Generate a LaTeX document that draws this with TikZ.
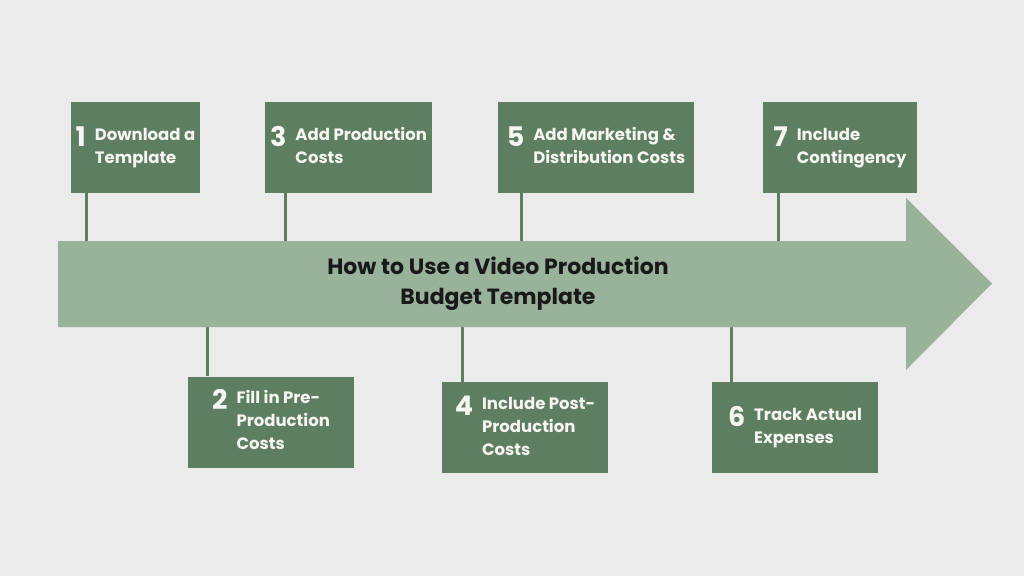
\documentclass[tikz,border=0pt]{standalone}
\usepackage{fontspec}
\setmainfont{Poppins}
\definecolor{boxgreen}{HTML}{5E7E62}
\definecolor{arrowgreen}{HTML}{98B39A}
\definecolor{pagegray}{HTML}{EBEBEB}
\definecolor{labelwhite}{HTML}{F6F6F0}
\newcommand{\stepnum}[1]{\raisebox{-6pt}{\fontsize{27}{27}\selectfont #1}\hspace{9pt}}
\tikzset{
  stepbox/.style={fill=boxgreen, minimum height=91pt, inner sep=0pt,
    text=labelwhite, font=\bfseries\fontsize{16.5}{23}\selectfont},
  stemline/.style={draw=boxgreen, line width=3pt},
  titletext/.style={align=center, text=black!90, font=\bfseries\fontsize{22}{30}\selectfont},
}
\begin{document}
\begin{tikzpicture}[x=1pt, y=-1pt]%
   % page
   \fill[pagegray] (0,0) rectangle (1024,576);
   \useasboundingbox (0,0) rectangle (1024,576);
   % stems meet the arrow here
   \coordinate (s1) at (86,241);
   \coordinate (s3) at (285,241);
   \coordinate (s5) at (521,241);
   \coordinate (s7) at (778,241);
   \coordinate (s2) at (207,327);
   \coordinate (s4) at (462,327);
   \coordinate (s6) at (731,327);
   % steps above the arrow
   \node[stepbox, minimum width=129pt] (b1) at (135.5,147.5)
      {\stepnum{1}\begin{tabular}[t]{@{}l@{}}Download a\\Template\end{tabular}};
   \node[stepbox, minimum width=167pt] (b3) at (348.5,147.5)
      {\stepnum{3}\begin{tabular}[t]{@{}l@{}}Add Production\\Costs\end{tabular}};
   \node[stepbox, minimum width=196pt] (b5) at (596,147.5)
      {\stepnum{5}\begin{tabular}[t]{@{}l@{}}Add Marketing \&\\Distribution Costs\end{tabular}};
   \node[stepbox, minimum width=154pt] (b7) at (840,147.5)
      {\stepnum{7}\begin{tabular}[t]{@{}l@{}}Include\\Contingency\end{tabular}};
   % steps below the arrow
   \node[stepbox, minimum width=166pt] (b2) at (271,422)
      {\stepnum{2}\begin{tabular}[t]{@{}l@{}}Fill in Pre-\\Production\\Costs\end{tabular}};
   \node[stepbox, minimum width=166pt] (b4) at (525,427.5)
      {\stepnum{4}\begin{tabular}[t]{@{}l@{}}Include Post-\\Production\\Costs\end{tabular}};
   \node[stepbox, minimum width=166pt] (b6) at (795,427.5)
      {\stepnum{6}\begin{tabular}[t]{@{}l@{}}Track Actual\\Expenses\end{tabular}};
   % stems
   \draw[stemline] (b1.south -| s1) -- (s1);
   \draw[stemline] (b3.south -| s3) -- (s3);
   \draw[stemline] (b5.south -| s5) -- (s5);
   \draw[stemline] (b7.south -| s7) -- (s7);
   \draw[stemline] (s2) -- (b2.north -| s2);
   \draw[stemline] (s4) -- (b4.north -| s4);
   \draw[stemline] (s6) -- (b6.north -| s6);
   % the big arrow
   \fill[arrowgreen] (58,241) -- (906,241) -- (906,198) -- (992,283.5)
      -- (906,370) -- (906,327) -- (58,327) -- cycle;
   \node[titletext] (title) at (498,284) {How to Use a Video Production\\Budget Template};
\end{tikzpicture}
\end{document}
